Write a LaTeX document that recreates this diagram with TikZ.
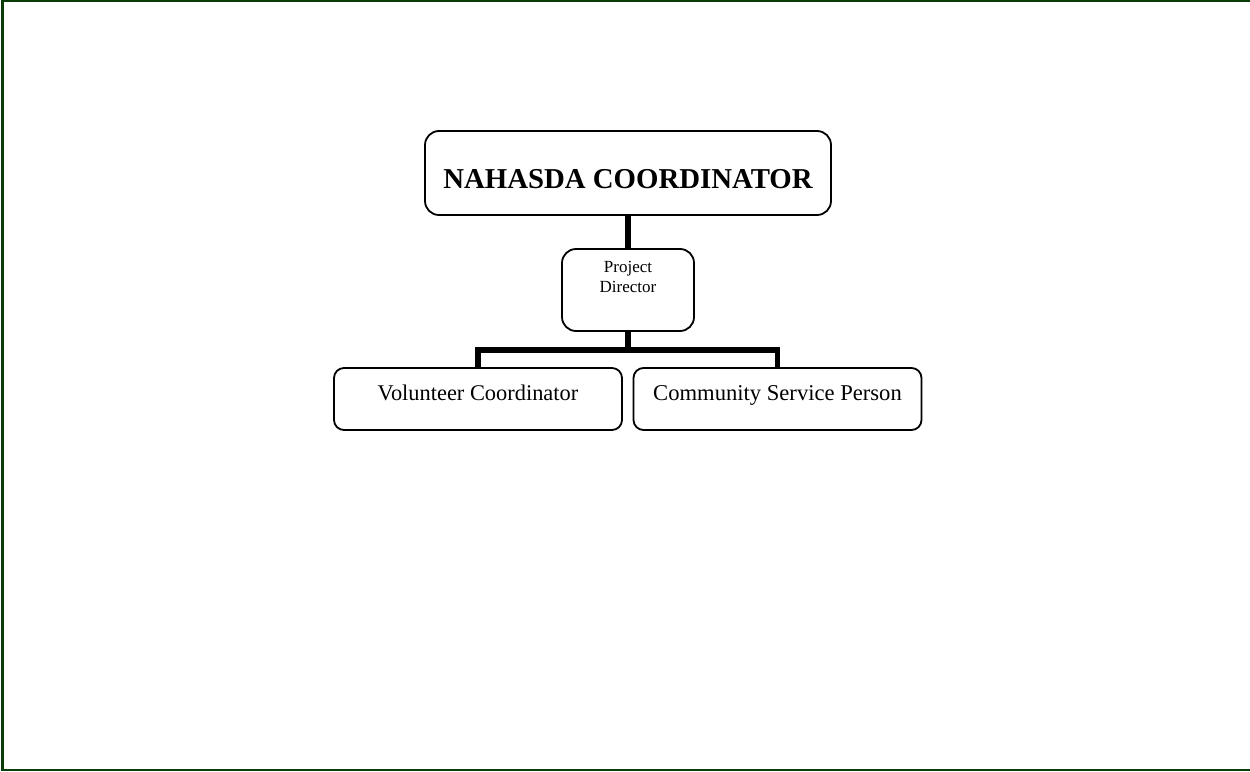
\documentclass[tikz,border=0pt]{standalone}
\usepackage{fontspec}
\setmainfont{Liberation Serif}
\definecolor{framegreen}{RGB}{10,60,10}
\begin{document}
\begin{tikzpicture}[x=1pt,y=-1pt,
  box/.style={draw=black, line width=1.8pt, fill=white, inner sep=0pt},
  conn/.style={draw=black, line width=5.5pt}]
\useasboundingbox (0,0) rectangle (1250,771);
% frame (left, top, bottom)
\draw[framegreen, line width=2.2pt] (1252,1) -- (2.5,1) -- (2.5,769.8) -- (1252,769.8);

\node[box, rounded corners=14pt, minimum width=406pt, minimum height=84pt,
      text height=30pt, text depth=0pt,
      font=\fontsize{28.8}{32}\selectfont\bfseries] (top) at (628,173)
  {NAHASDA COORDINATOR};

\node[box, rounded corners=14pt, minimum width=132pt, minimum height=82pt,
      text height=13pt, text depth=47.6pt,
      font=\fontsize{17}{19.6}\selectfont] (pd) at (628,290)
  {\begin{tabular}[t]{@{}c@{}}Project\\Director\end{tabular}};

\node[box, rounded corners=10pt, minimum width=288pt, minimum height=62pt,
      text height=16pt, text depth=14pt,
      font=\fontsize{22.4}{26}\selectfont] (vol) at (478,399) {Volunteer Coordinator};

\node[box, rounded corners=10pt, minimum width=288pt, minimum height=62pt,
      text height=16pt, text depth=14pt,
      font=\fontsize{22.6}{26}\selectfont] (com) at (777.5,399) {Community Service Person};

\coordinate (j) at (628,350);
\draw[conn] (top.south) -- (pd.north);
\draw[conn] (pd.south) -- (j);
\draw[conn] (vol.north) |- (j) -| (com.north);
\end{tikzpicture}
\end{document}
